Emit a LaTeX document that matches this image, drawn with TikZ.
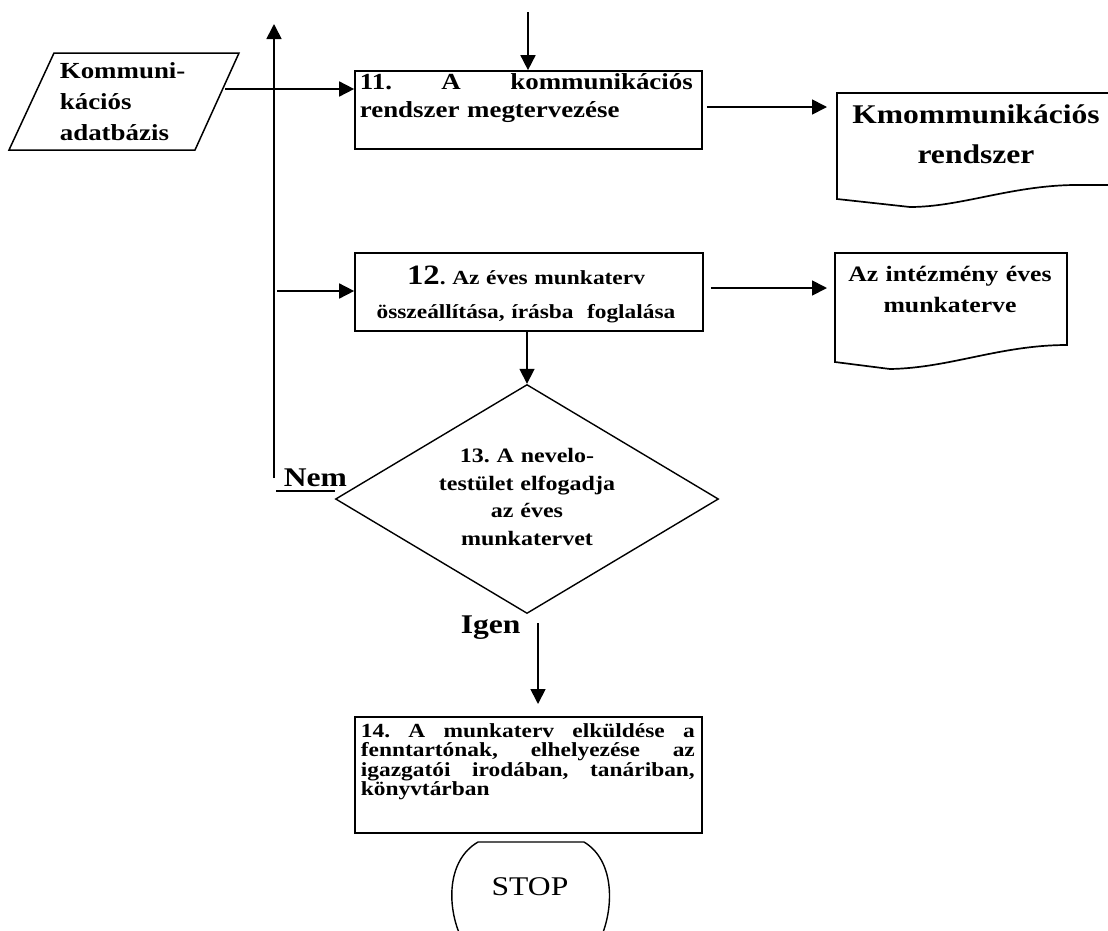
\documentclass[tikz,border=0pt]{standalone}
\usepackage{fontspec}
\setmainfont{Liberation Serif}[FakeStretch=1.17]
\usetikzlibrary{arrows.meta,shapes.geometric}
\newcommand\fsz[2]{\fontsize{#1}{#2}\selectfont}
% one line spread over a fixed width
\newcommand\fullline[2]{\leavevmode\hbox to #1{#2}}
\frenchspacing
\begin{document}
\begin{tikzpicture}[x=1pt,y=-1pt,
  line width=1.7pt,
  flow/.style={-{Triangle[length=15pt,width=15pt]}},
  procbox/.style={draw,rectangle,inner sep=0pt},
  txt/.style={inner sep=0pt,font=\bfseries},
]
\useasboundingbox (0,0) rectangle (1108,930);
\clip (0,0) rectangle (1108,930);

% data input (parallelogram)
\draw[line width=1.5pt] (54,53) -- (239,53) -- (195,150) -- (9,150) -- cycle;
\node[txt,anchor=base west,text width=150pt,align=left,font=\bfseries\fsz{23}{31}] (paratext) at (59,78)
  {Kommuni-\\kációs\\adatbázis};

% process boxes
\node[procbox,minimum width=347pt,minimum height=78pt] (b11) at (528.5,110) {};
\node[procbox,minimum width=348pt,minimum height=78pt] (b12) at (529,292) {};
\node[procbox,minimum width=347pt,minimum height=116pt] (b14) at (528.5,775) {};

\node[txt,anchor=base west,text width=333pt,align=left,font=\bfseries\fsz{23}{28}] (b11text) at (359,89)
  {\fullline{333pt}{11.\hfill A\hfill kommunikációs}\\rendszer megtervezése};
\node[txt,anchor=base,text width=340pt,align=center,font=\bfseries\fsz{20}{34}] (b12text) at (526,284)
  {{\fsz{28}{34}12}. Az éves munkaterv\\összeállítása, írásba~~foglalása};
\node[txt,anchor=base west,text width=334pt,align=left,font=\bfseries\fsz{20}{19.5}] (b14text) at (360,737)
  {\fullline{334pt}{14.\hfill A\hfill munkaterv\hfill elküldése\hfill a}\\
   \fullline{334pt}{fenntartónak,\hfill elhelyezése\hfill az}\\
   \fullline{334pt}{igazgatói\hfill irodában,\hfill tanáriban,}\\
   könyvtárban};

% decision
\node[draw,diamond,minimum width=383pt,minimum height=229pt,inner sep=0pt,line width=1.4pt] (dia) at (527,499) {};
\node[txt,anchor=base,text width=220pt,align=center,font=\bfseries\fsz{20.5}{27.5}] (diatext) at (527,462.5)
  {13. A nevelo-\\testület elfogadja\\az éves\\munkatervet};
\node[txt,anchor=base west,font=\bfseries\fsz{27}{27}] (nem) at (283,486) {Nem};
\node[txt,anchor=base west,font=\bfseries\fsz{27}{27}] (igen) at (460,633) {Igen};

% output documents
\draw (1108,185) -- (1073,185) .. controls (1010,186) and (960,207) .. (910,207) -- (837,199) -- (837,93) -- (1108,93);
\node[txt,anchor=base,text width=300pt,align=center,font=\bfseries\fsz{27}{40}] (d1text) at (976,123.5)
  {Kmommunikációs\\rendszer};
\draw (835,362) -- (890,369) .. controls (950,368) and (1000,345) .. (1067,345) -- (1067,253) -- (835,253) -- cycle;
\node[txt,anchor=base,text width=230pt,align=center,font=\bfseries\fsz{22}{31}] (d2text) at (950,281)
  {Az intézmény éves\\munkaterve};

% terminator
\draw[line width=1.4pt] (460,935) .. controls (447,905) and (447,860) .. (478,842) -- (584,842)
  .. controls (614,860) and (614,905) .. (602,935);
\node[inner sep=0pt,anchor=base,font=\fsz{27}{27}] (stoptext) at (530,895) {STOP};

% connector end points
\coordinate (topin) at (528,12);
\coordinate (paraout) at (225,89);
\coordinate (d1in) at (827,107);
\coordinate (loopbot) at (274,478);
\coordinate (looptop) at (274,24);
\coordinate (branch) at (277,291);
\coordinate (d2in) at (827,288);
\coordinate (nemline) at (276,491);
\coordinate (yesA) at (538,623);
\coordinate (yesB) at (538,704);

% connectors
\draw[flow] (topin) -- (topin |- b11.north);
\draw[flow] (paraout) -- (paraout -| b11.west);
\draw[flow,shorten <=4pt] (b11.east |- d1in) -- (d1in);
\draw[flow] (loopbot) -- (looptop);
\draw[flow] (branch) -- (branch -| b12.west);
\draw[flow,shorten <=7pt] (b12.east |- d2in) -- (d2in);
\draw[flow] (dia.north |- b12.south) -- (dia.north);
\draw (nemline) -- (nemline -| dia.west);
\draw[flow] (yesA) -- (yesB);
\end{tikzpicture}
\end{document}
